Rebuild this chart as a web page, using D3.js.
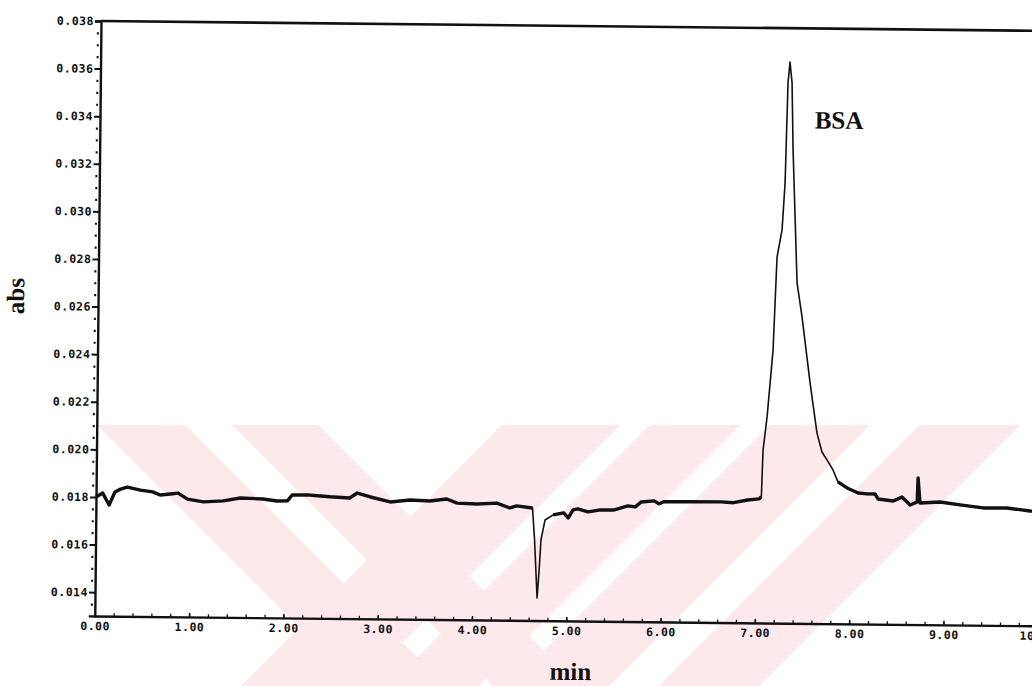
<!DOCTYPE html>
<html>
<head>
<meta charset="utf-8">
<script src="https://cdn.jsdelivr.net/npm/d3@7"></script>
<style>
  body { margin: 0; background: #fff; }
  .tick text { font-family: "DejaVu Sans Mono", monospace; font-weight: bold; font-size: 11.5px; letter-spacing: 0.5px; fill: #111; }
  .title { font-family: "Liberation Serif", serif; font-weight: bold; font-size: 25px; fill: #111; }
</style>
</head>
<body>
<div id="chart"></div>
<script>
// --------------- Data ---------------
const TIME = [
  0.00, 0.07, 0.14, 0.20, 0.26, 0.33, 0.47, 0.60, 0.68, 0.79, 0.87, 0.97,
  1.14, 1.35, 1.53, 1.77, 1.92, 2.03, 2.08, 2.24, 2.38, 2.48, 2.69, 2.77,
  2.91, 3.12, 3.33, 3.54, 3.72, 3.83, 4.04, 4.25, 4.39, 4.46, 4.63, 4.655,
  4.688, 4.705, 4.723, 4.764, 4.85, 4.96, 5.01, 5.06, 5.11, 5.22, 5.35, 5.49,
  5.64, 5.72, 5.78, 5.92, 5.97, 6.02, 6.28, 6.63, 6.76, 6.91, 7.03, 7.055,
  7.068, 7.107, 7.163, 7.195, 7.245, 7.272, 7.292, 7.311, 7.335, 7.353, 7.41, 7.467,
  7.559, 7.638, 7.693, 7.747, 7.812, 7.866, 7.963, 8.081, 8.175, 8.26, 8.293, 8.453,
  8.546, 8.634, 8.708, 8.715, 8.738, 8.95, 9.163, 9.407, 9.661, 9.905, 10.0
];
const ABS = [
  0.01800, 0.01817, 0.01767, 0.01822, 0.01834, 0.01843, 0.01831, 0.01824, 0.01811, 0.01816, 0.01820, 0.01795,
  0.01784, 0.01789, 0.01802, 0.01799, 0.01791, 0.01792, 0.01817, 0.01818, 0.01814, 0.01811, 0.01807, 0.01828,
  0.01812, 0.01792, 0.01801, 0.01798, 0.01807, 0.01790, 0.01787, 0.01792, 0.01772, 0.01781, 0.01773, 0.01639,
  0.01395, 0.01500, 0.01639, 0.01723, 0.01745, 0.01754, 0.01733, 0.01767, 0.01771, 0.01759, 0.01768, 0.01768,
  0.01786, 0.01782, 0.01803, 0.01808, 0.01796, 0.01805, 0.01806, 0.01807, 0.01804, 0.01816, 0.01821, 0.01830,
  0.02026, 0.02166, 0.02448, 0.02838, 0.02952, 0.03150, 0.03570, 0.03658, 0.03570, 0.03289, 0.02730, 0.02587,
  0.02311, 0.02100, 0.02021, 0.01988, 0.01946, 0.01896, 0.01871, 0.01850, 0.01847, 0.01847, 0.01826, 0.01818,
  0.01835, 0.01802, 0.01815, 0.01916, 0.01811, 0.01816, 0.01805, 0.01793, 0.01794, 0.01782, 0.01780
];
const Y_TICKS = [0.014, 0.016, 0.018, 0.020, 0.022, 0.024, 0.026, 0.028, 0.030, 0.032, 0.034, 0.036, 0.038];
const X_TICKS = [0, 1, 2, 3, 4, 5, 6, 7, 8, 9, 10];
const PEAK_LABEL = "BSA";

// --------------- Constants ---------------
const WIDTH = 1032;
const HEIGHT = 686;
const PLOT = { left: 101, top: 21, width: 943, height: 595 };
const SKEW = 0.6; // the scanned page is slightly rotated
const INK = "#111";
const PINK = "#fde8ec";

// --------------- Prep SVG ---------------
const svg = d3.select("#chart")
  .append("svg")
  .attr("width", WIDTH)
  .attr("height", HEIGHT);

// faint watermark behind the scan
const defs = svg.append("defs");
defs.append("clipPath").attr("id", "wm")
  .append("rect").attr("x", 96).attr("y", 425).attr("width", WIDTH - 96).attr("height", HEIGHT - 425);
const wm = svg.append("g").attr("clip-path", "url(#wm)");
// "\" bands given by x - y, "/" bands by x + y : [from, to]
[[-328, -240], [-193, -107]].forEach(([a, b]) => {
  wm.append("polygon")
    .attr("points", `${a},0 ${b},0 ${b + 1000},1000 ${a + 1000},1000`)
    .attr("fill", PINK);
});
[[927, 1045], [1075, 1165], [1195, 1295], [1345, 1445]].forEach(([a, b]) => {
  wm.append("polygon")
    .attr("points", `${a},0 ${b},0 ${b - 1000},1000 ${a - 1000},1000`)
    .attr("fill", PINK);
});

const g = svg.append("g")
  .attr("transform", `rotate(${SKEW}, ${PLOT.left}, ${PLOT.top})`);

const x = d3.scaleLinear().domain([0, 10]).range([PLOT.left, PLOT.left + PLOT.width]);
const y = d3.scaleLinear().domain([0.013, 0.038]).range([PLOT.top + PLOT.height, PLOT.top]);

// --------------- Axes ---------------
const yMinor = d3.range(0.0135, 0.038, 0.0005).filter((v) => Math.round(v * 10000) % 20 !== 0);
const yMinorAxis = g.append("g")
  .attr("transform", `translate(${PLOT.left},0)`)
  .call(d3.axisLeft(y).tickValues(yMinor).tickSize(4).tickFormat(""));
yMinorAxis.selectAll(".tick line").attr("x1", -2).attr("stroke-width", 2.2).attr("stroke", INK);
yMinorAxis.select(".domain").remove();

const yAxis = g.append("g")
  .attr("transform", `translate(${PLOT.left},0)`)
  .call(d3.axisLeft(y).tickValues(Y_TICKS).tickSize(6).tickPadding(1).tickFormat(d3.format(".3f")));
yAxis.selectAll(".tick line").attr("stroke-width", 2).attr("stroke", INK);
yAxis.select(".domain").attr("stroke-width", 2.4).attr("stroke", INK);

const xMinorAxis = g.append("g")
  .attr("transform", `translate(0,${PLOT.top + PLOT.height})`)
  .call(d3.axisBottom(x).tickValues(d3.range(0.2, 10, 0.2)).tickSize(-3).tickFormat(""));
xMinorAxis.selectAll(".tick line").attr("stroke-width", 1.3).attr("stroke", INK);
xMinorAxis.select(".domain").remove();

const xAxis = g.append("g")
  .attr("transform", `translate(0,${PLOT.top + PLOT.height})`)
  .call(d3.axisBottom(x).tickValues(X_TICKS).tickSizeInner(-4).tickSizeOuter(0).tickPadding(6).tickFormat(d3.format(".2f")));
xAxis.selectAll(".tick line").attr("stroke-width", 1.5).attr("stroke", INK);
xAxis.select(".domain").attr("stroke-width", 2.4).attr("stroke", INK);

// top frame line
g.append("line")
  .attr("x1", PLOT.left).attr("x2", PLOT.left + PLOT.width)
  .attr("y1", y(0.038)).attr("y2", y(0.038))
  .attr("stroke", INK).attr("stroke-width", 2.6);

// --------------- Trace ---------------
const points = TIME.map((t, i) => ({ t, v: ABS[i] }));
const inThin = (d) => (d.t > 4.63 && d.t < 4.78) || (d.t > 7.055 && d.t < 7.85);

g.append("path")
  .datum(points)
  .attr("fill", "none")
  .attr("stroke", INK)
  .attr("stroke-width", 1.6)
  .attr("stroke-linejoin", "round")
  .attr("d", d3.line().x((d) => x(d.t)).y((d) => y(d.v)));

g.append("path")
  .datum(points)
  .attr("fill", "none")
  .attr("stroke", INK)
  .attr("stroke-width", 3.4)
  .attr("stroke-linejoin", "round")
  .attr("d", d3.line().defined((d) => !inThin(d)).x((d) => x(d.t)).y((d) => y(d.v)));

// --------------- Labels ---------------
g.append("text")
  .attr("class", "title")
  .attr("x", x(7.58))
  .attr("y", y(0.0338))
  .text(PEAK_LABEL);

g.append("text")
  .attr("class", "title")
  .attr("text-anchor", "middle")
  .attr("x", x(5.05))
  .attr("y", 675)
  .text("min");

g.append("text")
  .attr("class", "title")
  .attr("text-anchor", "middle")
  .attr("transform", `translate(27,297) rotate(-90)`)
  .text("abs");
</script>
</body>
</html>
